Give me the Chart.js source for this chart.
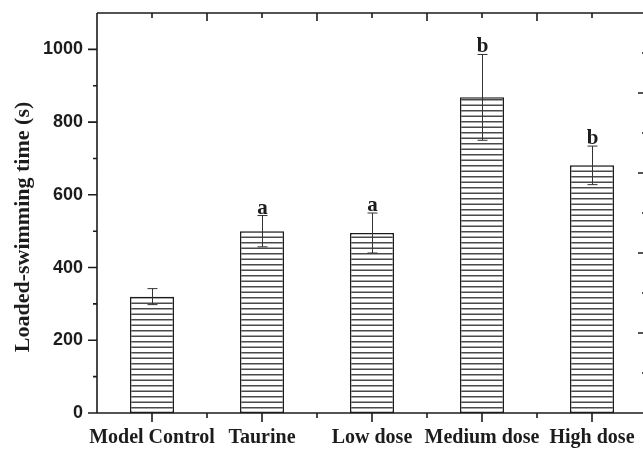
<!DOCTYPE html>
<html>
<head>
<meta charset="utf-8">
<style>
  html, body { margin: 0; padding: 0; background: #fff; overflow: hidden; }
  #wrap { width: 643px; height: 450px; overflow: hidden; }
</style>
<script src="https://cdn.jsdelivr.net/npm/chart.js@4/dist/chart.umd.min.js"></script>
</head>
<body>
<div id="wrap"><canvas id="cnvSwim" width="660" height="450"></canvas></div>
<script>
var groups = ["Model Control", "Taurine", "Low dose", "Medium dose", "High dose"];
var swimTime = [320, 500, 495, 868, 681];
var swimErr = [22, 43, 55, 118, 53];
var sigMarks = ["", "a", "a", "b", "b"];
var yTicks = [0, 200, 400, 600, 800, 1000];
var yTitle = "Loaded-swimming time (s)";

var INK = "#1c1c1c";
var SERIF = "'Liberation Serif', 'Times New Roman', serif";

function stripes(){
	var c = document.createElement("canvas");
	c.width = 8; c.height = 11;
	var g = c.getContext("2d");
	g.fillStyle = "#fff";
	g.fillRect(0, 0, 8, 11);
	g.fillStyle = "#4a4a4a";
	g.fillRect(0, 0, 8, 1.5);
	g.fillRect(0, 5.5, 8, 1.5);
	return document.getElementById("cnvSwim").getContext("2d").createPattern(c, "repeat");
}

var frame = {
	id: "frame",
	afterDatasetsDraw: function(chart){
		var ctx = chart.ctx, ca = chart.chartArea;
		var x = chart.scales.x, y = chart.scales.y;
		var meta = chart.getDatasetMeta(0);
		ctx.save();
		// error bars + letters
		ctx.strokeStyle = "#333";
		ctx.lineWidth = 1;
		ctx.fillStyle = INK;
		ctx.font = "bold 21px " + SERIF;
		ctx.textAlign = "center";
		ctx.textBaseline = "alphabetic";
		meta.data.forEach(function(bar, i){
			var bx = Math.round(bar.x) + 0.5;
			var top = y.getPixelForValue(swimTime[i] + swimErr[i]);
			var bot = y.getPixelForValue(swimTime[i] - swimErr[i]);
			ctx.beginPath();
			ctx.moveTo(bx, top); ctx.lineTo(bx, bot);
			ctx.moveTo(bx - 5, top); ctx.lineTo(bx + 5, top);
			ctx.moveTo(bx - 5, bot); ctx.lineTo(bx + 5, bot);
			ctx.stroke();
			if (sigMarks[i]) ctx.fillText(sigMarks[i], bx, top - 2);
		});
		// y title (sits a little below the middle, as in the figure)
		ctx.save();
		ctx.translate(23, (ca.top + ca.bottom) / 2 + 14);
		ctx.rotate(-Math.PI / 2);
		ctx.font = "bold 22px " + SERIF;
		ctx.textBaseline = "middle";
		ctx.fillText(yTitle, 0, 0);
		ctx.restore();
		// axis lines
		ctx.strokeStyle = INK;
		ctx.lineWidth = 1.6;
		ctx.beginPath();
		ctx.moveTo(ca.left, ca.top); ctx.lineTo(ca.left, ca.bottom);
		ctx.moveTo(ca.left, ca.bottom); ctx.lineTo(ca.right, ca.bottom);
		ctx.moveTo(ca.left, ca.top); ctx.lineTo(ca.right, ca.top);
		ctx.moveTo(ca.right, ca.top); ctx.lineTo(ca.right, ca.bottom);
		// left ticks (outward), right ticks (inward)
		for (var v = 0; v <= 1000; v += 100){
			var py = y.getPixelForValue(v);
			var len = v % 200 === 0 ? 9 : 4;
			ctx.moveTo(ca.left, py); ctx.lineTo(ca.left - len, py);
		}
		for (var k = 0; k <= 10; k++){
			var ry = y.getPixelForValue(k * 110);
			ctx.moveTo(ca.right, ry); ctx.lineTo(ca.right - (k % 2 === 0 ? 9 : 5), ry);
		}
		// bottom and top ticks
		for (var j = 0; j < groups.length; j++){
			var cx = x.getPixelForValue(j);
			var mx = x.getPixelForValue(j + 0.5);
			ctx.moveTo(cx, ca.bottom); ctx.lineTo(cx, ca.bottom + 9);
			ctx.moveTo(mx, ca.bottom); ctx.lineTo(mx, ca.bottom + 5);
			ctx.moveTo(cx, ca.top); ctx.lineTo(cx, ca.top + 5);
			ctx.moveTo(mx, ca.top); ctx.lineTo(mx, ca.top + 8);
		}
		ctx.stroke();
		ctx.restore();
	}
};

new Chart(document.getElementById("cnvSwim").getContext("2d"), {
	type: "bar",
	data: {
		labels: groups,
		datasets: [{
			label: "Loaded-swimming time",
			data: swimTime,
			backgroundColor: stripes(),
			borderColor: INK,
			borderWidth: 1.5,
			borderSkipped: false,
			barPercentage: 0.4,
			categoryPercentage: 1
		}]
	},
	options: {
		responsive: false,
		animation: false,
		layout: { padding: { top: 13, right: 13, left: 0, bottom: 0 } },
		plugins: { legend: { display: false }, tooltip: { enabled: false } },
		scales: {
			x: {
				offset: true,
				grid: { display: false },
				border: { display: false },
				ticks: {
					color: INK,
					padding: 5,
					maxRotation: 0,
					autoSkip: false,
					font: { family: SERIF, weight: "bold", size: 20 }
				},
				afterFit: function(s){ s.height = 37; s.paddingLeft = 0; s.paddingRight = 0; }
			},
			y: {
				min: 0,
				max: 1100,
				grid: { display: false, drawTicks: false },
				border: { display: false },
				afterBuildTicks: function(s){
					s.ticks = yTicks.map(function(v){ return { value: v }; });
				},
				ticks: {
					color: INK,
					padding: 14,
					callback: function(v){ return String(v); },
					font: { family: "'Liberation Sans', Arial, sans-serif", weight: "bold", size: 18 }
				},
				afterFit: function(s){ s.width = 97; s.paddingTop = 0; s.paddingBottom = 0; }
			}
		}
	},
	plugins: [frame]
});
</script>
</body>
</html>
